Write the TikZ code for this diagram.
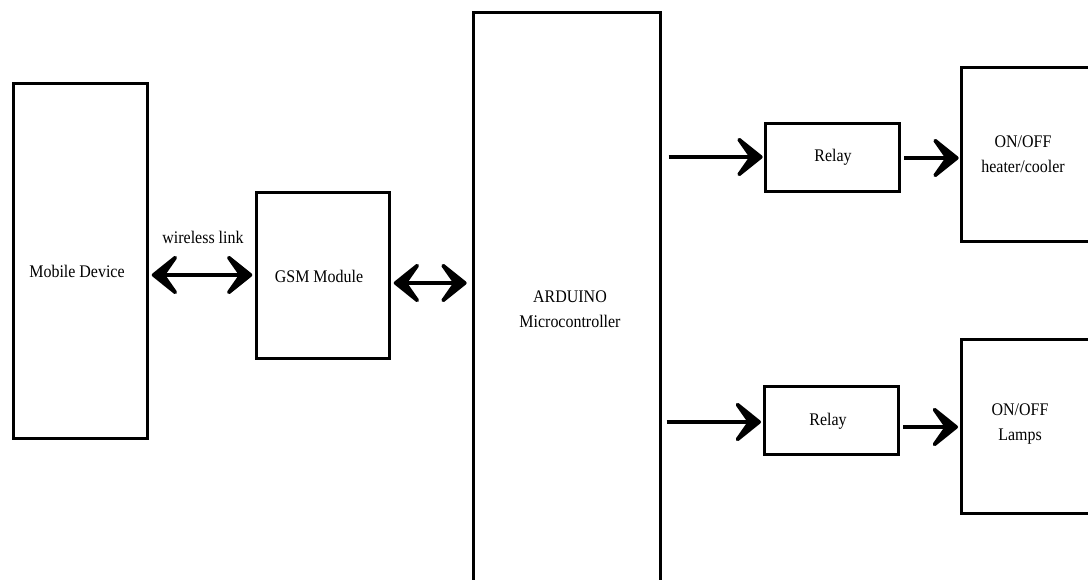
\documentclass[tikz,border=0pt]{standalone}
\usepackage{fontspec}
\setmainfont{Liberation Serif}[FakeStretch=0.9]
\usetikzlibrary{arrows.meta}
\tikzset{
  box/.style={draw=black, line width=2.3pt, rectangle, anchor=north west, inner sep=0pt, fill=white},
  lbl/.style={font=\fontsize{13.3}{19}\selectfont, align=center, inner sep=0pt},
  conn/.style={line width=3.4pt, -{Stealth[length=25pt,width=40pt,inset=14pt,round]}},
  dconn/.style={line width=3.4pt, {Stealth[length=25pt,width=40pt,inset=14pt,round]}-{Stealth[length=25pt,width=40pt,inset=14pt,round]}}
}
\begin{document}
\begin{tikzpicture}[x=0.75pt,y=-0.75pt]
\useasboundingbox (0,0) rectangle (1088,580);
\clip (0,0) rectangle (1088,580);
\fill[white] (0,0) rectangle (1088,580);
% boxes
\node[box, minimum width={134*0.75pt}, minimum height={355*0.75pt}] (mob) at (12,82) {};
\node[box, minimum width={133*0.75pt}, minimum height={166*0.75pt}] (gsm) at (255,191) {};
\node[box, minimum width={187*0.75pt}, minimum height={600*0.75pt}] (ard) at (472,11) {};
\node[box, minimum width={134*0.75pt}, minimum height={68*0.75pt}] (r1) at (764,122) {};
\node[box, minimum width={150*0.75pt}, minimum height={174*0.75pt}] (hc) at (960,66) {};
\node[box, minimum width={134*0.75pt}, minimum height={68*0.75pt}] (r2) at (763,385) {};
\node[box, minimum width={150*0.75pt}, minimum height={174*0.75pt}] (lp) at (960,338) {};
% texts
\node[lbl] (tw) at (203,237) {wireless link};
\node[lbl] (tmob) at (77,271) {Mobile Device};
\node[lbl] (tgsm) at (319,276) {GSM Module};
\node[lbl] (tard) at (570,309) {ARDUINO\\Microcontroller};
\node[lbl] (tr1) at (833,157) {Relay};
\node[lbl] (tr2) at (828,421) {Relay};
\node[lbl] (thc) at (1023,154) {ON/OFF\\heater/cooler};
\node[lbl] (tlp) at (1020,424) {ON/OFF\\Lamps};
% connectors
\draw[dconn, shorten <=2pt, shorten >=2pt] (mob.east |- 0,275) -- (gsm.west |- 0,275);
\draw[dconn, shorten <=2pt, shorten >=4pt] (gsm.east |- 0,283) -- (ard.west |- 0,283);
\draw[conn, shorten <=5pt, shorten >=1pt] (ard.east |- 0,157) -- (r1.west |- 0,157);
\draw[conn, shorten <=2.5pt, shorten >=1pt] (r1.east |- 0,158) -- (hc.west |- 0,158);
\draw[conn, shorten <=3.5pt, shorten >=1.5pt] (ard.east |- 0,422) -- (r2.west |- 0,422);
\draw[conn, shorten <=2.5pt, shorten >=1.5pt] (r2.east |- 0,427) -- (lp.west |- 0,427);
\end{tikzpicture}
\end{document}
